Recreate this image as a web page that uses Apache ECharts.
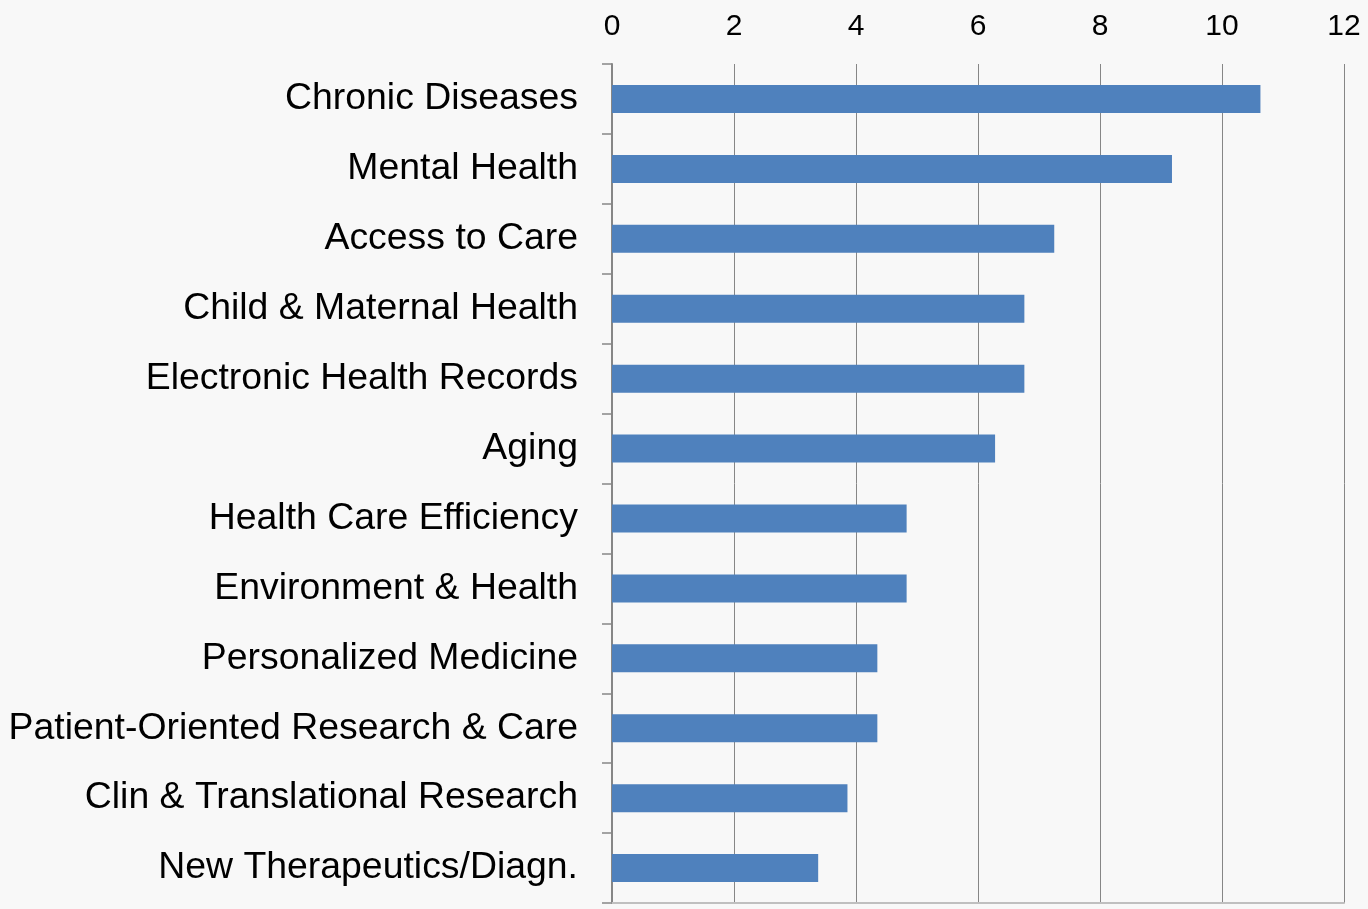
<!DOCTYPE html>
<html>
<head>
<meta charset="utf-8">
<script src="https://cdn.jsdelivr.net/npm/echarts@6/dist/echarts.min.js"></script>
<style>
html,body{margin:0;padding:0;background:#f8f8f8;}
#chart{width:1368px;height:909px;}
</style>
</head>
<body>
<div id="chart"></div>
<script>
const categories = [
  "Chronic Diseases",
  "Mental Health",
  "Access to Care",
  "Child & Maternal Health",
  "Electronic Health Records",
  "Aging",
  "Health Care Efficiency",
  "Environment & Health",
  "Personalized Medicine",
  "Patient-Oriented Research & Care",
  "Clin & Translational Research",
  "New Therapeutics/Diagn."
];
const values = [10.63, 9.18, 7.25, 6.76, 6.76, 6.28, 4.83, 4.83, 4.35, 4.35, 3.86, 3.38];
const tickMin = 0, tickMax = 12, tickStep = 2;

const chart = echarts.init(document.getElementById('chart'), null, {renderer: 'canvas'});
chart.setOption({
  backgroundColor: '#f8f8f8',
  animation: false,
  textStyle: {fontFamily: '"Liberation Sans", Arial, sans-serif'},
  grid: {left: 612, right: 24, top: 64, bottom: 6, containLabel: false},
  xAxis: [{
    type: 'value',
    position: 'top',
    min: tickMin, max: tickMax, interval: tickStep,
    axisLine: {show: false},
    axisTick: {show: false},
    splitLine: {show: true, lineStyle: {color: '#868686', width: 1}},
    axisLabel: {fontSize: 30, color: '#000', margin: 22, fontFamily: '"Liberation Sans", Arial, sans-serif'}
  }, {
    type: 'value',
    position: 'bottom',
    min: tickMin, max: tickMax,
    axisLine: {show: true, lineStyle: {color: '#bfbfbf', width: 2}},
    axisTick: {show: false},
    axisLabel: {show: false},
    splitLine: {show: false}
  }],
  yAxis: {
    type: 'category',
    inverse: true,
    data: categories,
    axisLine: {show: true, lineStyle: {color: '#868686', width: 2}},
    axisTick: {show: true, length: 10, lineStyle: {color: '#868686', width: 1.5}},
    axisLabel: {fontSize: 37.4, color: '#000', margin: 34, padding: [4, 0, 0, 0], fontFamily: '"Liberation Sans", Arial, sans-serif'}
  },
  series: [{
    type: 'bar',
    xAxisIndex: 0,
    data: values,
    barWidth: 28,
    itemStyle: {color: '#4F81BD'}
  }]
});
</script>
</body>
</html>
